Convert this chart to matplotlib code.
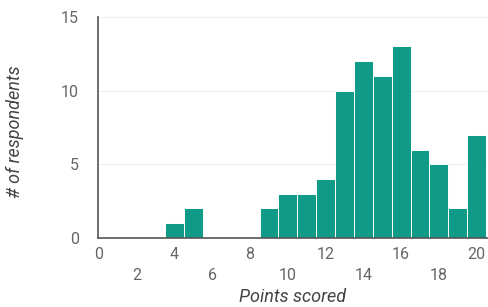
import matplotlib
matplotlib.use("Agg")
import matplotlib.pyplot as plt

plt.rcParams['font.family'] = ['Roboto', 'DejaVu Sans']

points = [4, 5, 9, 10, 11, 12, 13, 14, 15, 16, 17, 18, 19, 20]
counts = [1, 2, 2, 3, 3, 4, 10, 12, 11, 13, 6, 5, 2, 7]
xticks_top = [0, 4, 8, 12, 16, 20]
xticks_bottom = [2, 6, 10, 14, 18]
yticks = [0, 5, 10, 15]

fig = plt.figure(figsize=(4.88, 3.07), dpi=100)
ax = fig.add_axes([0.201, 0.225, 0.799, 0.72])

ax.bar(points, counts, width=1.0, color='#0f9b87', edgecolor='white', linewidth=0.7, zorder=3)

ax.set_xlim(-0.05, 20.6)
ax.set_ylim(0, 15)
ax.set_yticks(yticks)
ax.set_xticks(xticks_top)
ax.set_xticks(xticks_bottom, minor=True)
ax.set_xticklabels([str(v) for v in xticks_top])
ax.set_xticklabels([str(v) for v in xticks_bottom], minor=True)

tick_fs = 11.5
ax.tick_params(axis='x', which='major', length=0, pad=6.5, labelsize=tick_fs, labelcolor='#666666')
ax.tick_params(axis='x', which='minor', length=0, pad=21.5, labelsize=tick_fs, labelcolor='#666666')
ax.tick_params(axis='y', length=0, pad=14, labelsize=tick_fs, labelcolor='#666666')

ax.grid(axis='y', color='#efefef', linewidth=0.8, zorder=0)
for s in ['top', 'right']:
    ax.spines[s].set_visible(False)
for s in ['left', 'bottom']:
    ax.spines[s].set_color('#555555')
    ax.spines[s].set_linewidth(1.2)
    ax.spines[s].set_zorder(4)

ax.set_xlabel('Points scored', fontsize=13, style='italic', color='#444444')
ax.set_ylabel('# of respondents', fontsize=13, style='italic', color='#444444')
ax.xaxis.set_label_coords(0.5, -0.225)
ax.yaxis.set_label_coords(-0.19, 0.48)

fig.savefig('out.png', dpi=100)
